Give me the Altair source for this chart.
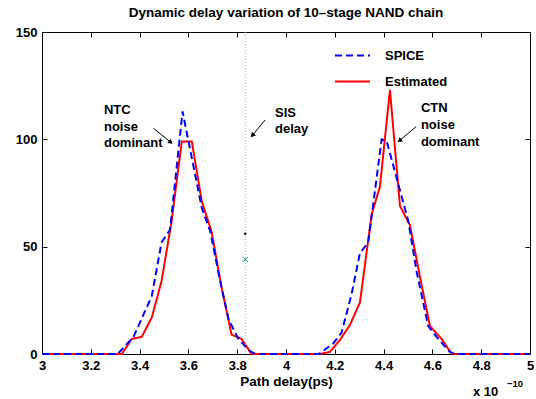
import altair as alt
import pandas as pd

FONT = "Liberation Sans"

# ---- data (x in units of 1e-10 s) ----
spice_x = [3.0, 3.31, 3.375, 3.45, 3.49, 3.525, 3.576, 3.655, 3.69, 3.73, 3.765, 3.805, 3.85, 3.875,
           4.135, 4.194, 4.228, 4.269, 4.303, 4.337, 4.392, 4.413, 4.501, 4.536, 4.583, 4.624, 4.672, 4.69, 5.0]
spice_y = [0, 0, 8, 27, 52, 58, 113, 68, 57, 34, 16, 7, 1.5, 0,
           0, 5, 10, 28, 47, 52, 100, 99, 62, 38, 13, 7, 1, 0, 0]

est_x = [3.0, 3.327, 3.368, 3.409, 3.45, 3.49, 3.53, 3.573, 3.614, 3.655, 3.695, 3.736, 3.777, 3.818, 3.859,
         4.139, 4.180, 4.221, 4.262, 4.303, 4.351, 4.385, 4.426, 4.467, 4.508, 4.549, 4.590, 4.638, 4.679, 5.0]
est_y = [0, 0, 7, 8, 17, 34, 61, 99, 99, 71, 57, 31, 9, 7, 0,
         0, 1, 6.5, 13.5, 24, 65, 78, 123, 69, 60, 36, 13, 7, 0, 0]

series_names = ["SPICE", "Estimated"]
series_colors = ["#0000ff", "#ff0000"]

x_ticks = [3.0, 3.2, 3.4, 3.6, 3.8, 4.0, 4.2, 4.4, 4.6, 4.8, 5.0]
y_ticks = [0, 50, 100, 150]

sis_delay = 3.833
marker_dot = 56
marker_cross = 44

notes_text = ["NTC", "noise", "dominant", "SIS", "delay", "CTN", "noise", "dominant"]
notes_x = [3.254, 3.254, 3.254, 3.955, 3.955, 4.553, 4.553, 4.553]
notes_y = [113.6, 105.7, 98.3, 112.2, 104.8, 114.6, 106.7, 98.7]

arrow_x = [3.457, 3.914, 4.533]
arrow_y = [105.1, 109.0, 105.9]
arrow_x2 = [3.528, 3.862, 4.465]
arrow_y2 = [98.6, 101.8, 99.4]
arrow_angle = [128, 222, 233]

# ---- tables ----
rows = [{"delay": x, "count": y, "series": "Estimated"} for x, y in zip(est_x, est_y)]
rows += [{"delay": x, "count": y, "series": "SPICE"} for x, y in zip(spice_x, spice_y)]
df = pd.DataFrame(rows)

df_sis = pd.DataFrame({"delay": [sis_delay], "y0": [0], "y1": [150]})
df_mark = pd.DataFrame({"delay": [sis_delay], "dot": [marker_dot], "cross": [marker_cross]})
df_notes = pd.DataFrame({"x": notes_x, "y": notes_y, "t": notes_text})
df_arrow = pd.DataFrame({"x": arrow_x, "y": arrow_y, "x2": arrow_x2, "y2": arrow_y2, "a": arrow_angle})
df_one = pd.DataFrame({"k": [0]})

xs = alt.Scale(domain=[3, 5], nice=False, zero=False)
ys = alt.Scale(domain=[0, 150], nice=False, zero=False)

axis_common = dict(
    grid=False, domainColor="black", tickColor="black", domainWidth=1, tickWidth=1,
    tickSize=alt.ExprRef(expr="-5"), labelFont=FONT, labelFontSize=13, labelFontWeight="bold",
    labelColor="black", titleFont=FONT, titleFontSize=13.5, titleFontWeight="bold", titleColor="black",
)

x_axis = alt.Axis(values=x_ticks, format="~g", title="Path delay(ps)", labelPadding=10,
                  titlePadding=2, labelFlush=False, **axis_common)
y_axis = alt.Axis(values=y_ticks, title=None, labelPadding=10, **axis_common)
x_top = alt.Axis(values=x_ticks, orient="top", labels=False, title=None, **axis_common)
y_right = alt.Axis(values=y_ticks, orient="right", labels=False, title=None, **axis_common)

legend = alt.Legend(
    title=None, orient="none", legendX=292, legendY=5, symbolType="stroke",
    symbolSize=1225, symbolStrokeWidth=2, labelFont=FONT, labelFontSize=13,
    labelFontWeight="bold", labelColor="black", labelOffset=14, rowPadding=-14,
)

lines = alt.Chart(df).mark_line(strokeWidth=2).encode(
    x=alt.X("delay:Q", scale=xs, axis=x_axis),
    y=alt.Y("count:Q", scale=ys, axis=y_axis),
    color=alt.Color("series:N", scale=alt.Scale(domain=series_names, range=series_colors), legend=legend),
    strokeDash=alt.StrokeDash("series:N", scale=alt.Scale(domain=series_names, range=[[7, 4], [1, 0]]),
                              legend=legend),
)

sis = alt.Chart(df_sis).mark_rule(strokeDash=[1, 2], color="#a0a8d8", strokeWidth=1).encode(
    x=alt.X("delay:Q", scale=xs, axis=x_top),
    y=alt.Y("y0:Q", scale=ys, axis=y_right),
    y2="y1:Q",
)

dot = alt.Chart(df_mark).mark_point(filled=True, color="black", size=6, opacity=1).encode(
    x=alt.X("delay:Q", scale=xs, axis=None),
    y=alt.Y("dot:Q", scale=ys, axis=None),
)
cross = alt.Chart(df_mark).mark_point(
    shape="M-1,-1L1,1M-1,1L1,-1", filled=False, color="#1a8a4a", size=28, strokeWidth=1, opacity=1
).encode(
    x=alt.X("delay:Q", scale=xs, axis=None),
    y=alt.Y("cross:Q", scale=ys, axis=None),
)

notes = alt.Chart(df_notes).mark_text(
    align="left", baseline="middle", font=FONT, fontSize=13, fontWeight="bold", color="black"
).encode(
    x=alt.X("x:Q", scale=xs, axis=None),
    y=alt.Y("y:Q", scale=ys, axis=None),
    text="t:N",
)

shafts = alt.Chart(df_arrow).mark_rule(color="black", strokeWidth=1).encode(
    x=alt.X("x:Q", scale=xs, axis=None),
    y=alt.Y("y:Q", scale=ys, axis=None),
    x2="x2:Q", y2="y2:Q",
)
heads = alt.Chart(df_arrow).mark_point(shape="triangle-up", filled=True, color="black", size=30, opacity=1).encode(
    x=alt.X("x2:Q", scale=xs, axis=None),
    y=alt.Y("y2:Q", scale=ys, axis=None),
    angle=alt.Angle("a:Q", scale=None),
)

expo = alt.Chart(df_one).mark_text(
    align="left", baseline="middle", font=FONT, fontSize=13, fontWeight="bold", color="black"
).encode(x=alt.value(431), y=alt.value(360), text=alt.value("x 10"))
expo_sup = alt.Chart(df_one).mark_text(
    align="left", baseline="middle", font=FONT, fontSize=9.5, fontWeight="bold", color="black"
).encode(x=alt.value(465), y=alt.value(352), text=alt.value("\u221210"))

chart = alt.layer(lines, sis, dot, cross, shafts, heads, notes, expo, expo_sup).resolve_scale(
    x="independent", y="independent"
).resolve_axis(x="independent", y="independent").properties(
    width=488, height=322,
    title=alt.TitleParams("Dynamic delay variation of 10\u2013stage NAND chain", font=FONT, fontSize=13.5,
                          fontWeight="bold", color="black", anchor="middle", offset=7),
    autosize=alt.AutoSizeParams(type="none"),
    padding={"left": 42, "top": 32, "right": 6, "bottom": 45},
).configure_view(stroke="black", strokeWidth=1).configure(background="white")

chart.save("out.html", embed_options={"renderer": "svg", "actions": False})
